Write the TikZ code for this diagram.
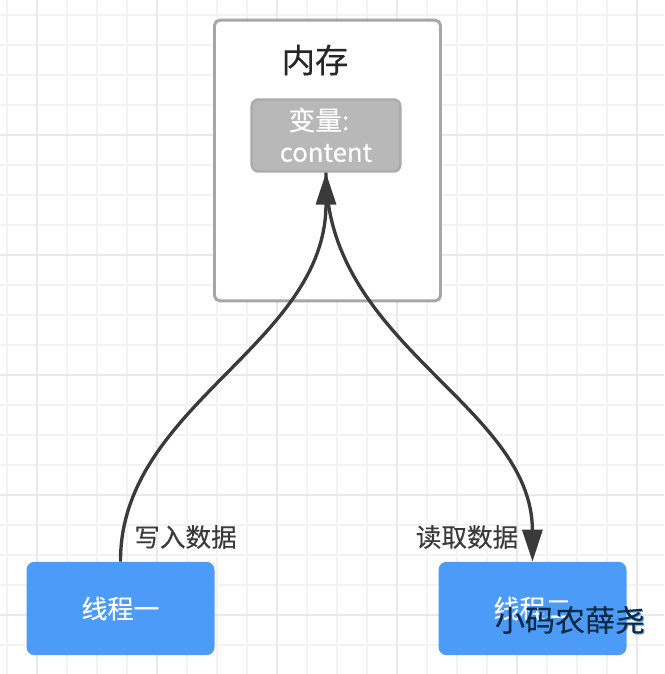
\documentclass[tikz,border=0pt]{standalone}
\usepackage{fontspec}
\setmainfont{Noto Sans CJK SC}[FakeBold=0.25]
\usetikzlibrary{arrows.meta}
\definecolor{gridminor}{HTML}{F3F3F3}
\definecolor{gridmajor}{HTML}{E9E9E9}
\definecolor{linkdark}{HTML}{3A3A3A}
\definecolor{threadblue}{HTML}{4D9BF8}
\definecolor{markdark}{HTML}{0C2A44}
\tikzset{
  membox/.style={draw=black!35,line width=2.2pt,fill=white,rounded corners=4pt,
    minimum width=169.5pt,minimum height=210.5pt,inner sep=0pt},
  varbox/.style={draw=black!33,line width=1.8pt,fill=black!28,rounded corners=5pt,
    minimum width=111.5pt,minimum height=54pt,inner sep=0pt},
  threadbox/.style={fill=threadblue,rounded corners=6pt,text=white,
    minimum width=141pt,minimum height=70pt,inner sep=0pt,font=\fontsize{19.5}{21}\selectfont},
  linklabel/.style={text=linkdark,inner sep=0pt,font=\fontsize{19.2}{21}\selectfont},
  link/.style={draw=linkdark,line width=2.5pt},
  tip/.style={-{Triangle[length=24pt,width=15pt]}}
}
\begin{document}
\begin{tikzpicture}[x=0.75pt,y=-0.75pt]
    \useasboundingbox (0,0) rectangle (664,674);
    % grid
    \foreach \i in {7,37,...,667} {
      \draw[gridminor,line width=1.2pt] (\i,0) -- (\i,674);
    }
    \foreach \j in {15,45,...,675} {
      \draw[gridminor,line width=1.2pt] (0,\j) -- (664,\j);
    }
    \foreach \i in {37,157,...,637} {
      \draw[gridmajor,line width=1.2pt] (\i,0) -- (\i,674);
    }
    \foreach \j in {135,255,...,615} {
      \draw[gridmajor,line width=1.2pt] (0,\j) -- (664,\j);
    }

    \node[membox] (mem) at (327.5,160.5) {};
    \node[inner sep=0pt,text=black!85,font=\fontsize{25}{27}\selectfont] (memtitle) at (315,60) {内存};
    \node[varbox] (var) at (326,135.5) {};
    \node[inner sep=0pt,text=white,font=\fontsize{20}{22}\selectfont] (varname) at (319,120) {变量:};
    \node[inner sep=0pt,text=white,font=\fontsize{19.2}{21}\selectfont] (varvalue) at (326,153) {content};

    \node[threadbox] (threadone) at (120.5,608.5) {线程一};
    \node[threadbox] (threadtwo) at (532.5,608.5) {线程二};

    \draw[link,tip] (threadone.north) .. controls (120,405) and (326,345) .. (var.south);
    \draw[link,tip] (var.south) .. controls (326,345) and (532,405) .. (threadtwo.north);

    \node[linklabel] (writelabel) at (185.5,537) {写入数据};
    \node[linklabel] (readlabel) at (467,537) {读取数据};

    \node[inner sep=0pt,text=threadblue,font=\fontsize{22.5}{24}\selectfont] (markshadow) at (571,621) {小码农薛尧};
    \node[inner sep=0pt,text=markdark,font=\fontsize{22.5}{24}\selectfont] (mark) at (570,620) {小码农薛尧};
\end{tikzpicture}
\end{document}
